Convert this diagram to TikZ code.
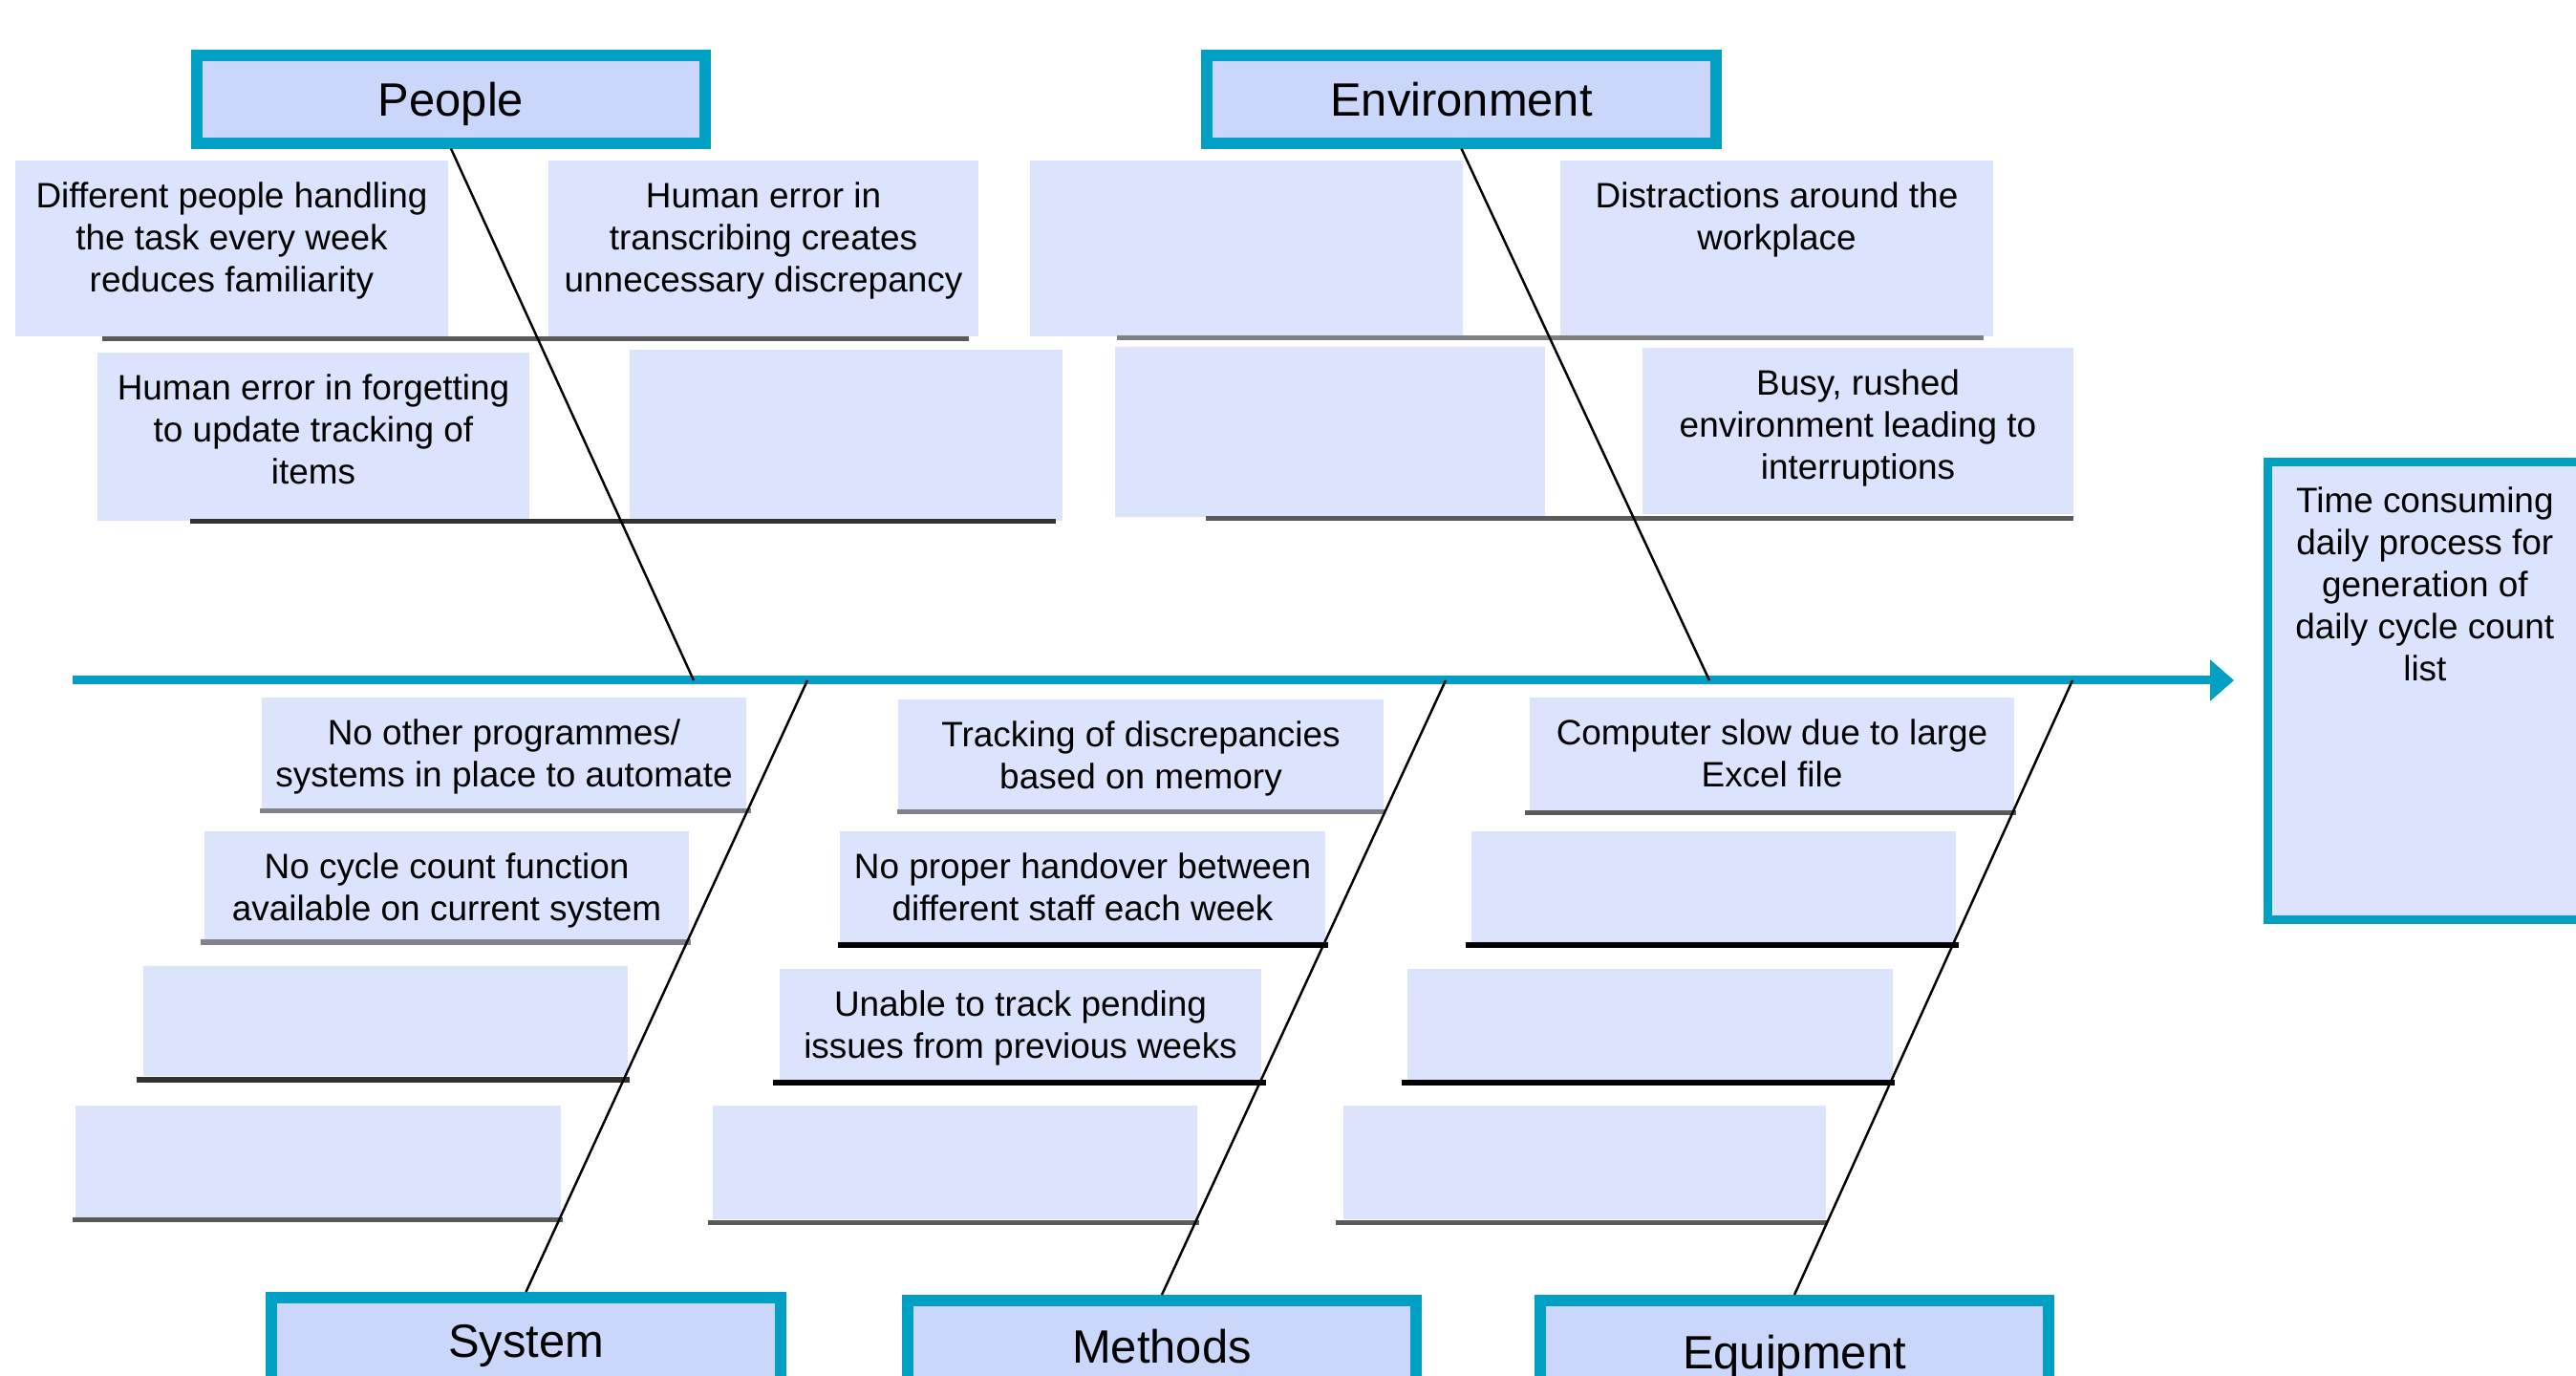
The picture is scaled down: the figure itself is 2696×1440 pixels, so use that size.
\documentclass[tikz,border=0pt]{standalone}
\usepackage{fontspec}
\setmainfont{Liberation Sans}
\usetikzlibrary{arrows.meta}
\definecolor{teal1}{RGB}{0,160,196}
\definecolor{boxfill}{RGB}{220,227,252}
\definecolor{titlefill}{RGB}{202,215,251}
\definecolor{ribA}{RGB}{90,90,90}
\definecolor{ribB}{RGB}{130,130,140}
\definecolor{ribC}{RGB}{50,50,50}
\newcommand\causebox[6]{%
  \pgfmathsetmacro\bw{(#4-#2)*0.01}%
  \pgfmathsetmacro\bh{(#5-#3)*0.01}%
  \node[cause, anchor=north west, minimum width=\bw cm, minimum height=\bh cm] (#1) at (#2,#3)
    {\parbox[t][\bh cm][t]{\bw cm}{\centering\vspace*{0.23cm}#6\par}};%
}
\begin{document}
\begin{tikzpicture}[x=0.01cm, y=-0.01cm,
  cause/.style={fill=boxfill, inner sep=0pt, outer sep=0pt, font=\fontsize{10.5}{12.5}\selectfont},
  title/.style={draw=teal1, line width=0.12cm, fill=titlefill, minimum width=5.32cm,
                inner sep=0pt, text height=0.35cm, text depth=0pt,
                font=\fontsize{13.9}{16}\selectfont},
  effect/.style={draw=teal1, line width=0.09cm, fill=boxfill, inner sep=0pt,
                 font=\fontsize{10.5}{12.5}\selectfont},
  spine/.style={draw=teal1, line width=0.09cm, -{Triangle[length=0.25cm,width=0.42cm]}},
  rib/.style={line width=0.05cm},
  bone/.style={line width=0.7pt, black}]
\useasboundingbox (0,0) rectangle (2696,1440);
\clip (0,0) rectangle (2696,1440);

% ---- cause boxes: People ----
\causebox{p1}{16}{168}{469}{352}{Different people handling\\the task every week\\reduces familiarity}
\causebox{p2}{574}{168}{1024}{352}{Human error in\\transcribing creates\\unnecessary discrepancy}
\causebox{p3}{102}{369}{554}{545}{Human error in forgetting\\to update tracking of\\items}
\causebox{p4}{659}{366}{1112}{545}{}
% ---- Environment ----
\causebox{e1}{1078}{168}{1531}{352}{}
\causebox{e2}{1633}{168}{2086}{352}{Distractions around the\\workplace}
\causebox{e3}{1167}{363}{1617}{541}{}
\causebox{e4}{1719}{364}{2170}{538}{Busy, rushed\\environment leading to\\interruptions}
% ---- System ----
\causebox{s1}{274}{730}{781}{847}{No other programmes/\\systems in place to automate}
\causebox{s2}{214}{870}{721}{985}{No cycle count function\\available on current system}
\causebox{s3}{150}{1011}{657}{1126}{}
\causebox{s4}{79}{1157}{587}{1274}{}
% ---- Methods ----
\causebox{m1}{940}{732}{1448}{848}{Tracking of discrepancies\\based on memory}
\causebox{m2}{879}{870}{1387}{986}{No proper handover between\\different staff each week}
\causebox{m3}{816}{1014}{1320}{1130}{Unable to track pending\\issues from previous weeks}
\causebox{m4}{746}{1157}{1253}{1276}{}
% ---- Equipment ----
\causebox{q1}{1601}{730}{2108}{848}{Computer slow due to large\\Excel file}
\causebox{q2}{1540}{870}{2047}{986}{}
\causebox{q3}{1473}{1014}{1981}{1130}{}
\causebox{q4}{1406}{1157}{1911}{1276}{}

% ---- ribs under boxes ----
\draw[rib, ribA] (107,355) -- (1014,355);
\draw[rib, ribC] (199,546) -- (1105,546);
\draw[rib, gray] (1169,354) -- (2076,354);
\draw[rib, ribA] (1262,543) -- (2170,543);
\draw[rib, ribB] (272,849) -- (786,849);
\draw[rib, ribB] (210,986) -- (723,986);
\draw[rib, ribC] (143,1130) -- (659,1130);
\draw[rib, ribA] (76,1276) -- (589,1276);
\draw[rib, ribB] (939,850) -- (1450,850);
\draw[rib, black] (877,989) -- (1390,989);
\draw[rib, black] (809,1133) -- (1325,1133);
\draw[rib, ribA] (741,1279) -- (1255,1279);
\draw[rib, ribA] (1596,851) -- (2110,851);
\draw[rib, black] (1534,989) -- (2050,989);
\draw[rib, black] (1467,1133) -- (1983,1133);
\draw[rib, ribA] (1398,1279) -- (1913,1279);

% ---- category titles ----
\node[title, minimum height=0.91cm] (people) at (472,104) {People};
\node[title, minimum height=0.91cm] (env) at (1529.5,104) {Environment};
\node[title, minimum height=0.89cm] (system) at (550.5,1402.5) {System};
\node[title, minimum height=0.96cm] (methods) at (1216,1409) {Methods};
\node[title, minimum height=1.07cm] (equip) at (1878,1414.5) {Equipment};

% ---- effect ----
\node[effect, anchor=north west] (effect) at (2368.5,479.5)
  {\parbox[t][4.78cm][t]{3.295cm}{\centering\vspace*{0.26cm}Time consuming\\daily process for\\generation of\\daily cycle count\\list\par}};

% ---- spine ----
\coordinate (spL) at (76,712);
\coordinate (spR) at (2338,712);
\draw[spine] (spL) -- (spR);

% ---- bones ----
\coordinate (jP) at (726,712);
\coordinate (jE) at (1789,712);
\coordinate (jS) at (845,712);
\coordinate (jM) at (1513,712);
\coordinate (jQ) at (2169,712);
\draw[bone] (people.south) -- (jP);
\draw[bone] (env.south) -- (jE);
\draw[bone] (system.north) -- (jS);
\draw[bone] (methods.north) -- (jM);
\draw[bone] (equip.north) -- (jQ);
\end{tikzpicture}
\end{document}
